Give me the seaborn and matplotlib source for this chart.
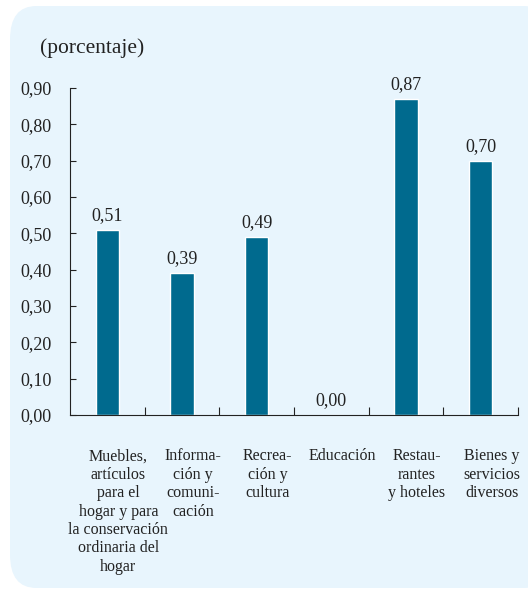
import matplotlib
matplotlib.use("Agg")
import matplotlib.pyplot as plt
import matplotlib.transforms as mtransforms
import seaborn as sns
import pandas as pd
from matplotlib.patches import FancyBboxPatch

# data
categorias = [
    "Muebles,\nartículos\npara el\nhogar y para\nla conservación\nordinaria del\nhogar",
    "Informa-\nción y\ncomuni-\ncación",
    "Recrea-\nción y\ncultura",
    "Educación",
    "Restau-\nrantes\ny hoteles",
    "Bienes y\nservicios\ndiversos",
]
valores = [0.51, 0.39, 0.49, 0.00, 0.87, 0.70]
yticks = [0.0, 0.1, 0.2, 0.3, 0.4, 0.5, 0.6, 0.7, 0.8, 0.9]

df = pd.DataFrame({"cat": categorias, "val": valores})

sns.set_style("white")
plt.rcParams["font.family"] = ["Liberation Serif", "DejaVu Serif"]

fig = plt.figure(figsize=(5.28, 5.94), dpi=100)
fig.patch.set_facecolor("white")
bg = FancyBboxPatch((10 / 528, 6 / 594), 540 / 528, 582 / 594,
                    boxstyle="round,pad=0,rounding_size=0.05",
                    transform=fig.transFigure, facecolor="#e8f5fd",
                    edgecolor="none", zorder=-10, mutation_aspect=594 / 528)
fig.patches.append(bg)

ax = fig.add_axes([70 / 528, 1 - 415 / 594, 448 / 528, (415 - 88) / 594])
ax.set_facecolor("none")
ax.set_zorder(5)
sns.barplot(data=df, x="cat", y="val", color="#006a8e", width=0.31,
            saturation=1, ax=ax)

ax.set_ylim(0, 0.9)
ax.set_xlim(-0.5, len(categorias) - 0.5)
ax.set_yticks(yticks)
ax.set_yticklabels([f"{v:.2f}".replace(".", ",") for v in yticks], fontsize=13)
ax.tick_params(axis="y", left=True, direction="in", length=4, width=0.8, pad=13,
               colors="#222222")
ax.set_xticks(range(len(categorias)))
ax.set_xticklabels(categorias, fontsize=11.5, linespacing=1.2, va="top")
ax.tick_params(axis="x", which="major", bottom=True, length=0, pad=24, colors="#222222")
ax.set_xticks([i + 0.5 for i in range(len(categorias))], minor=True)
ax.tick_params(axis="x", which="minor", bottom=True, direction="in", length=6,
               width=0.8, color="#222222")
ax.set_xlabel("")
ax.set_ylabel("")

# labels sit a little right of the bars in the original
shift = mtransforms.ScaledTranslation(11 / 100, 0, fig.dpi_scale_trans)
for lbl in ax.get_xticklabels():
    lbl.set_transform(lbl.get_transform() + shift)

for s in ["top", "right"]:
    ax.spines[s].set_visible(False)
for s in ["left", "bottom"]:
    ax.spines[s].set_color("#222222")
    ax.spines[s].set_linewidth(0.8)

for i, v in enumerate(valores):
    ax.text(i, v + 0.016, f"{v:.2f}".replace(".", ","), ha="center", va="bottom",
            fontsize=13, color="#222222")

fig.text(40 / 528, 1 - 48 / 594, "(porcentaje)", fontsize=15.5, color="#222222",
         va="center", ha="left")

fig.savefig("out.png", dpi=100)
